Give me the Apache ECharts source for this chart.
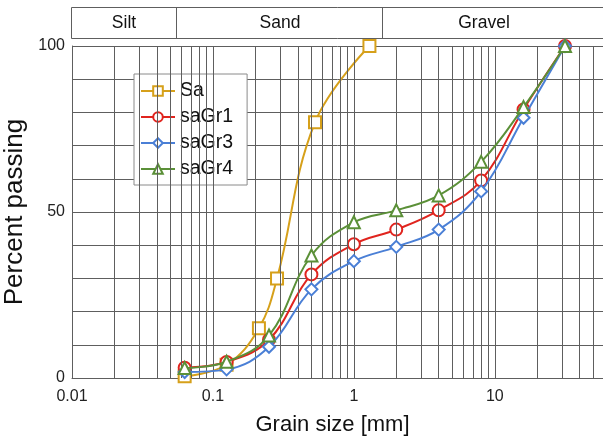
<!DOCTYPE html>
<html>
<head>
<meta charset="utf-8">
<script src="https://cdn.jsdelivr.net/npm/echarts@6/dist/echarts.min.js"></script>
<style>
  html, body { margin: 0; padding: 0; background: #fff; }
  #chart { width: 603px; height: 439px; }
</style>
</head>
<body>
<div id="chart"></div>
<script>
// Grain size distribution curves (sieve size in mm vs. percent passing)
const sizesSa    = [0.063, 0.125, 0.212, 0.285, 0.53, 1.29];
const passingSa  = [0.5, 4, 15, 30, 77, 100];

const sizesGr    = [0.063, 0.125, 0.25, 0.5, 1, 2, 4, 8, 16, 31.5];
const passingGr1 = [3.1, 4.8, 11.5, 31.2, 40.3, 44.7, 50.5, 59.5, 80.9, 100];
const passingGr3 = [1.8, 2.6, 9.4, 26.7, 35.2, 39.5, 44.7, 56.2, 78.4, 100];
const passingGr4 = [3.0, 4.9, 12.8, 36.9, 46.9, 50.5, 55.0, 65.1, 81.6, 100];

const seriesNames = ['Sa', 'saGr1', 'saGr3', 'saGr4'];
const yTickLabels = [0, 50, 100];
const xTickLabels = [0.01, 0.1, 1, 10];
const classNames  = ['Silt', 'Sand', 'Gravel'];

// visible grain size range (mm)
const X_MIN = 0.01;
const X_MAX = 58.6;

const colors = ['#D6A01A', '#E0241E', '#4A7FD6', '#5B9038'];
const symbols = ['emptyRect', 'emptyCircle', 'emptyDiamond', 'emptyTriangle'];

// vertical grid lines at 1..9 x each decade
const vLines = [];
for (let d = -2; d <= 1; d++) {
  for (let m = 1; m <= 9; m++) {
    const v = +(m * Math.pow(10, d)).toPrecision(3);
    if (v <= X_MIN || v >= X_MAX) continue;
    vLines.push({ xAxis: v });
  }
}

const pairs = (xs, ys) => xs.map((x, i) => [x, ys[i]]);
const dataSets = [
  pairs(sizesSa, passingSa),
  pairs(sizesGr, passingGr1),
  pairs(sizesGr, passingGr3),
  pairs(sizesGr, passingGr4)
];

const FONT = 'Liberation Sans, Arial, sans-serif';
const gridColor = '#5e5e5e';

const chart = echarts.init(document.getElementById('chart'), null, { renderer: 'canvas' });

const series = [{
  name: '_grid',
  type: 'line',
  data: [],
  silent: true,
  z: 1,
  markLine: {
    silent: true,
    symbol: ['none', 'none'],
    label: { show: false },
    animation: false,
    lineStyle: { color: gridColor, width: 1, type: 'solid' },
    data: vLines
  }
}];

seriesNames.forEach((name, i) => {
  series.push({
    name: name,
    type: 'line',
    data: dataSets[i],
    smooth: 0.4,
    symbol: symbols[i],
    symbolSize: 12,
    showAllSymbol: true,
    z: 3 + i,
    lineStyle: { color: colors[i], width: 2 },
    itemStyle: { color: colors[i], borderColor: colors[i], borderWidth: 1.5 },
    emphasis: { disabled: true },
    animation: false
  });
});

chart.setOption({
  animation: false,
  backgroundColor: '#ffffff',
  textStyle: { fontFamily: FONT },
  grid: { left: 72, right: 0, top: 46, bottom: 61, containLabel: false, outerBoundsMode: 'none' },
  legend: {
    data: seriesNames,
    orient: 'vertical',
    left: 134,
    top: 74,
    padding: [7, 14, 6, 6],
    itemGap: 6,
    itemWidth: 34,
    itemHeight: 12,
    backgroundColor: '#ffffff',
    borderColor: '#8a8a8a',
    borderWidth: 1,
    textStyle: { fontSize: 19.5, color: '#111', fontFamily: FONT }
  },
  xAxis: {
    type: 'log',
    logBase: 10,
    min: X_MIN,
    max: X_MAX,
    name: 'Grain size [mm]',
    nameLocation: 'middle',
    nameGap: 36,
    nameTextStyle: { fontSize: 22, color: '#111', fontFamily: FONT, padding: [0, 10, 0, 0] },
    axisLine: { show: true, lineStyle: { color: gridColor, width: 1 } },
    axisTick: { show: false },
    splitLine: { show: false },
    axisLabel: {
      fontSize: 16, color: '#222', margin: 11, fontFamily: FONT, showMaxLabel: false,
      formatter: v => (xTickLabels.some(t => Math.abs(t - v) / t < 1e-6) ? String(v) : '')
    }
  },
  yAxis: {
    type: 'value',
    min: 0,
    max: 100,
    interval: 10,
    name: 'Percent passing',
    nameLocation: 'middle',
    nameGap: 38,
    nameRotate: 90,
    nameTextStyle: { fontSize: 26, color: '#111', fontFamily: FONT },
    axisLine: { show: true, lineStyle: { color: gridColor, width: 1 } },
    axisTick: { show: false },
    splitLine: { show: true, lineStyle: { color: gridColor, width: 1 } },
    axisLabel: {
      fontSize: 16, color: '#222', margin: 7, fontFamily: FONT,
      formatter: v => (yTickLabels.indexOf(v) >= 0 ? String(v) : '')
    }
  },
  graphic: [
    // soil class band above the plot
    { type: 'rect', shape: { x: 71.5, y: 7.5, width: 560, height: 31 }, style: { fill: '#fff', stroke: gridColor, lineWidth: 1 }, silent: true },
    { type: 'line', shape: { x1: 176.5, y1: 7.5, x2: 176.5, y2: 38.5 }, style: { stroke: gridColor, lineWidth: 1 }, silent: true },
    { type: 'line', shape: { x1: 382.5, y1: 7.5, x2: 382.5, y2: 38.5 }, style: { stroke: gridColor, lineWidth: 1 }, silent: true },
    { type: 'text', x: 124, y: 23, style: { text: classNames[0], fontSize: 17.5, fontFamily: FONT, fill: '#111', align: 'center', verticalAlign: 'middle' }, silent: true },
    { type: 'text', x: 280, y: 23, style: { text: classNames[1], fontSize: 17.5, fontFamily: FONT, fill: '#111', align: 'center', verticalAlign: 'middle' }, silent: true },
    { type: 'text', x: 484, y: 23, style: { text: classNames[2], fontSize: 17.5, fontFamily: FONT, fill: '#111', align: 'center', verticalAlign: 'middle' }, silent: true }
  ],
  series: series
});
</script>
</body>
</html>
